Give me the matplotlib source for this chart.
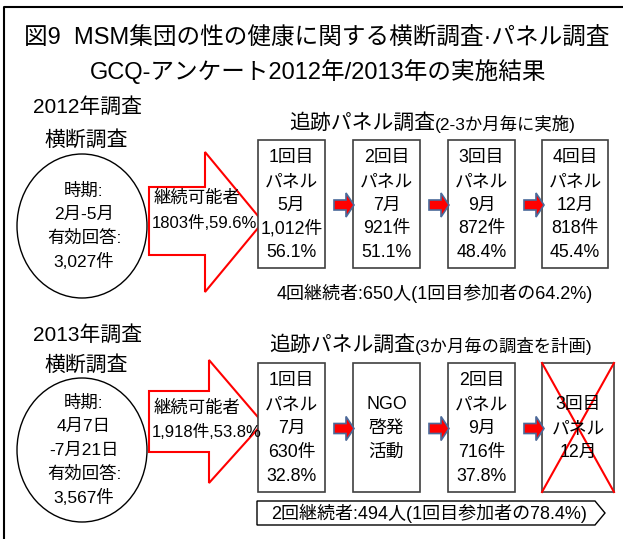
import matplotlib.pyplot as plt
from matplotlib.patches import Ellipse, Polygon, Rectangle

plt.rcParams['font.family'] = ['Liberation Sans', 'Noto Sans CJK JP', 'DejaVu Sans']

# data
title1 = "図9  MSM集団の性の健康に関する横断調査·パネル調査"
title2 = "GCQ-アンケート2012年/2013年の実施結果"

years = ["2012年調査", "2013年調査"]
period = [["2月-5月"], ["4月7日", "-7月21日"]]
valid = ["3,027件", "3,567件"]
cont_possible = ["1803件,59.6%", "1,918件,53.8%"]
headers = [("追跡パネル調査", "(2-3か月毎に実施)"), ("追跡パネル調査", "(3か月毎の調査を計画)")]

rounds_2012 = ["1回目", "2回目", "3回目", "4回目"]
months_2012 = ["5月", "7月", "9月", "12月"]
counts_2012 = ["1,012件", "921件", "872件", "818件"]
rates_2012 = [56.1, 51.1, 48.4, 45.4]

rounds_2013 = ["1回目", None, "2回目", "3回目"]
months_2013 = ["7月", None, "9月", "12月"]
counts_2013 = ["630件", None, "716件", None]
rates_2013 = [32.8, None, 37.8, None]
ngo = ["NGO", "啓発", "活動"]

summary = ["4回継続者:650人(1回目参加者の64.2%)", "2回継続者:494人(1回目参加者の78.4%)"]

fig = plt.figure(figsize=(6.23, 5.39), dpi=100)
ax = fig.add_axes([0, 0, 1, 1])
ax.set_xlim(0, 623)
ax.set_ylim(539, 0)
ax.axis('off')

# frame
ax.plot([4, 4, 623], [539, 7, 7], color='black', lw=1.5)

ax.text(317, 38, title1, ha='center', va='center', fontsize=17)
ax.text(318, 72, title2, ha='center', va='center', fontsize=17)

box_x = [(258, 325), (353, 420), (448, 515), (542, 608)]


def small_arrow(x, y):
    pts = [(x, y - 5), (x + 12, y - 5), (x + 12, y - 12), (x + 20, y),
           (x + 12, y + 12), (x + 12, y + 5), (x, y + 5)]
    ax.add_patch(Polygon(pts, closed=True, fc='red', ec='#4a6a9a', lw=1.2, zorder=5))


for i in range(2):
    dy = 0 if i == 0 else 226
    ax.text(88, 107 + dy + (0 if i == 0 else 2), years[i], ha='center', va='center', fontsize=15)
    ax.text(86, 140 + dy - (0 if i == 0 else 1), "横断調査", ha='center', va='center', fontsize=15)
    cy = 226 if i == 0 else 450
    ax.add_patch(Ellipse((82, cy), 130, 144, fc='white', ec='black', lw=1))
    lines = ["時期:"] + period[i] + ["有効回答:", valid[i]]
    step = 23.5
    y0 = cy - step * (len(lines) - 1) / 2
    for k, s in enumerate(lines):
        ax.text(84, y0 + k * step, s, ha='center', va='center', fontsize=12.5)

    # big arrow
    if i == 0:
        bt, bb, hs, ht, hb, tip = 187, 255, 205, 152, 292, 222
    else:
        bt, bb, hs, ht, hb, tip = 391, 452, 209, 360, 483, 423
    pts = [(149, bt), (hs, bt), (hs, ht), (263, tip), (hs, hb), (hs, bb), (149, bb)]
    ax.add_patch(Polygon(pts, closed=True, fc='white', ec='red', lw=1.5))
    ax.text(154, tip - 24 if i == 0 else tip - 15, "継続可能者", ha='left', va='center', fontsize=12.5)
    ax.text(152, tip + 1 if i == 0 else tip + 9, cont_possible[i], ha='left', va='center', fontsize=12)

    # header
    hy = 123 if i == 0 else 345
    hx = 435 if i == 0 else 415
    ax.text(hx, hy, headers[i][0], ha='right', va='center', fontsize=15)
    ax.text(hx, hy + 1, headers[i][1], ha='left', va='center', fontsize=12.5)

    # panel boxes
    top, bot = (140, 268) if i == 0 else (363, 492)
    for j, (x0, x1) in enumerate(box_x):
        if i == 1 and j == 3:
            x1 = 614
        ax.add_patch(Rectangle((x0, top), x1 - x0, bot - top, fc='white', ec='#404040', lw=1.2))
        xc = (x0 + x1) / 2
        if i == 0:
            lines = [rounds_2012[j], "パネル", months_2012[j], counts_2012[j], f"{rates_2012[j]}%"]
        elif rounds_2013[j] is None:
            lines = ngo
        elif counts_2013[j] is None:
            lines = [rounds_2013[j], "パネル", months_2013[j]]
        else:
            lines = [rounds_2013[j], "パネル", months_2013[j], counts_2013[j], f"{rates_2013[j]}%"]
        my = (top + bot) / 2 + 1
        step = 23.8
        y0 = my - step * (len(lines) - 1) / 2
        for k, s in enumerate(lines):
            ax.text(xc, y0 + k * step, s, ha='center', va='center', fontsize=12.8)
        if i == 1 and j == 3:
            ax.plot([x0, x1], [top, bot], color='red', lw=1.5)
            ax.plot([x0, x1], [bot, top], color='red', lw=1.5)
        if j < 3:
            small_arrow(x1 + 9, (top + bot) / 2 + 1)

    # summary
    if i == 0:
        ax.text(435, 293, summary[0], ha='center', va='center', fontsize=13)
    else:
        pts = [(257, 501), (595, 501), (605, 513), (595, 525), (257, 525)]
        ax.add_patch(Polygon(pts, closed=True, fc='white', ec='black', lw=1))
        ax.text(429, 513, summary[1], ha='center', va='center', fontsize=13)

fig.savefig('out.png', dpi=100)
